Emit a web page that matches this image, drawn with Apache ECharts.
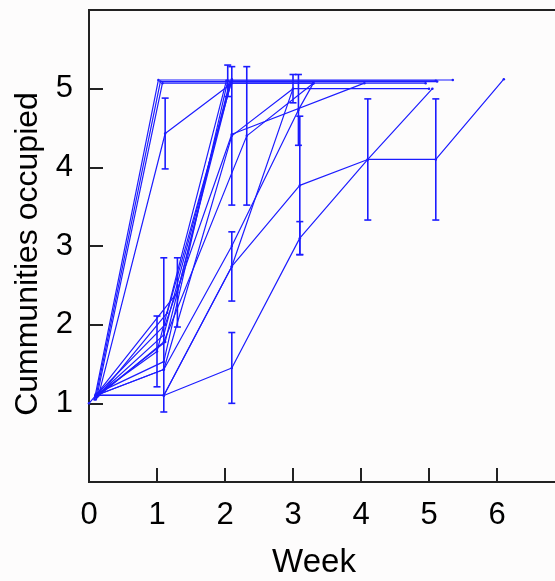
<!DOCTYPE html>
<html>
<head>
<meta charset="utf-8">
<script src="https://cdn.jsdelivr.net/npm/echarts@6/dist/echarts.min.js"></script>
<style>
  html, body { margin: 0; padding: 0; background: #fdfcfc; }
  #chart { width: 555px; height: 581px; }
</style>
</head>
<body>
<div id="chart"></div>
<script>
// Each line: [week, communities occupied, error (sd); 0 = no bar]
const lineA = [[0.08, 1.05, 0], [1.02, 5.11, 0], [5.35, 5.11, 0]];
const lineB = [[0.10, 1.08, 0], [1.05, 5.09, 0], [5.12, 5.09, 0]];
const lineC = [[0.12, 1.10, 0], [1.08, 5.07, 0], [4.95, 5.07, 0]];
const lineD = [[0.14, 1.10, 0], [1.12, 4.43, 0.45], [2.10, 5.07, 0], [3.30, 5.07, 0]];
const lineE = [[0.10, 1.10, 0], [1.00, 1.66, 0.45], [2.02, 5.10, 0], [5.10, 5.10, 0]];
const lineF = [[0.10, 1.12, 0], [1.10, 1.53, 0], [2.04, 5.10, 0.20]];
const lineG = [[0.10, 1.08, 0], [1.12, 1.78, 0], [2.06, 5.05, 0]];
const lineH = [[0.12, 1.10, 0], [1.10, 1.87, 0.98], [2.08, 5.08, 0]];
const lineI = [[0.10, 1.05, 0], [1.15, 2.15, 0], [2.10, 5.10, 0]];
const lineJ = [[0.10, 1.10, 0], [1.30, 2.41, 0.44], [2.10, 5.12, 0]];
const lineK = [[0.10, 1.10, 0], [1.10, 1.43, 0], [2.10, 4.40, 0.88], [3.00, 5.00, 0], [5.00, 5.00, 0]];
const lineL = [[0.12, 1.08, 0], [1.10, 1.78, 0], [2.32, 4.40, 0.88], [3.30, 5.07, 0]];
const lineM = [[0.10, 1.10, 0], [1.12, 2.00, 0], [2.10, 4.42, 0], [4.05, 5.07, 0]];
const lineN = [[0.10, 1.10, 0], [1.10, 1.10, 0], [2.10, 2.74, 0.44], [3.00, 5.00, 0.18]];
const lineO = [[0.10, 1.10, 0], [1.10, 1.10, 0], [2.10, 2.74, 0], [3.10, 3.77, 0.88], [4.10, 4.10, 0.77], [5.10, 4.10, 0.77], [6.10, 5.12, 0]];
const lineP = [[0.00, 1.00, 0], [0.10, 1.10, 0], [1.10, 1.10, 0], [2.10, 1.45, 0.45], [3.10, 3.10, 0.21], [4.10, 4.10, 0], [5.05, 5.00, 0]];
const lineQ = [[0.10, 1.10, 0], [1.10, 1.43, 0], [2.10, 3.00, 0], [3.08, 4.73, 0.45], [3.30, 5.07, 0]];

const allLines = [lineA, lineB, lineC, lineD, lineE, lineF, lineG, lineH, lineI,
                  lineJ, lineK, lineL, lineM, lineN, lineO, lineP, lineQ];

const xTicks = [0, 1, 2, 3, 4, 5, 6];
const yTicks = [1, 2, 3, 4, 5];

const blue = '#1c1cff';
const font = '"Liberation Sans", Arial, sans-serif';

const series = [];
allLines.forEach(function (pts) {
  series.push({
    type: 'line',
    data: pts.map(function (p) { return [p[0], p[1]]; }),
    symbol: 'circle',
    symbolSize: 2.5,
    itemStyle: { color: blue },
    lineStyle: { color: blue, width: 1.2 },
    silent: true,
    animation: false
  });
  const bars = pts.filter(function (p) { return p[2] > 0; });
  if (bars.length) {
    series.push({
      type: 'custom',
      data: bars,
      silent: true,
      animation: false,
      renderItem: function (params, api) {
        const x = api.value(0), y = api.value(1), e = api.value(2);
        const hi = api.coord([x, y + e]);
        const lo = api.coord([x, y - e]);
        const cap = 3.5;
        const style = { stroke: blue, lineWidth: 1.6 };
        return {
          type: 'group',
          children: [
            { type: 'line', shape: { x1: hi[0], y1: hi[1], x2: lo[0], y2: lo[1] }, style: style },
            { type: 'line', shape: { x1: hi[0] - cap, y1: hi[1], x2: hi[0] + cap, y2: hi[1] }, style: style },
            { type: 'line', shape: { x1: lo[0] - cap, y1: lo[1], x2: lo[0] + cap, y2: lo[1] }, style: style }
          ]
        };
      }
    });
  }
});

const chart = echarts.init(document.getElementById('chart'));
chart.setOption({
  backgroundColor: '#fdfcfc',
  animation: false,
  grid: {
    left: 89, top: 10, width: 476, height: 472,
    containLabel: false, outerBoundsMode: 'none',
    show: true, borderColor: '#222', borderWidth: 2, backgroundColor: 'transparent'
  },
  xAxis: {
    type: 'value', min: 0, max: 7, interval: 1,
    axisLine: { show: true, lineStyle: { color: '#222', width: 2 } },
    axisTick: { show: true, inside: true, length: 14, lineStyle: { color: '#222', width: 2 } },
    axisLabel: {
      margin: 18, fontSize: 31, color: '#000', fontFamily: font,
      formatter: function (v) { return xTicks.indexOf(v) >= 0 ? String(v) : ''; }
    },
    splitLine: { show: false }
  },
  yAxis: {
    type: 'value', min: 0, max: 6, interval: 1,
    axisLine: { show: true, lineStyle: { color: '#222', width: 2 } },
    axisTick: { show: true, inside: true, length: 14, lineStyle: { color: '#222', width: 2 } },
    axisLabel: {
      margin: 16, fontSize: 31, color: '#000', fontFamily: font,
      formatter: function (v) { return yTicks.indexOf(v) >= 0 ? String(v) : ''; }
    },
    splitLine: { show: false }
  },
  graphic: [
    {
      type: 'text', x: 314, y: 563,
      style: { text: 'Week', font: '33px ' + font, fill: '#000',
               align: 'center', verticalAlign: 'middle' }
    },
    {
      type: 'text', x: 28, y: 254, rotation: Math.PI / 2,
      style: { text: 'Cummunities occupied', font: '32px ' + font, fill: '#000',
               align: 'center', verticalAlign: 'middle' }
    }
  ],
  series: series
});
</script>
</body>
</html>
